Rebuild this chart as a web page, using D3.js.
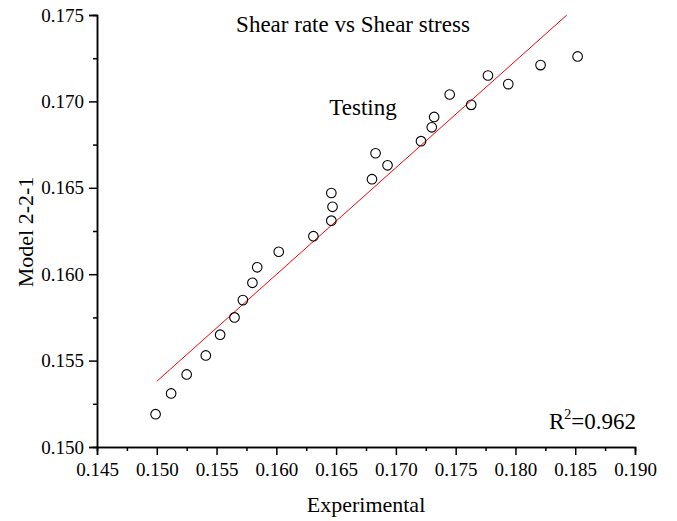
<!DOCTYPE html>
<html>
<head>
  <meta charset="utf-8">
  <title>Shear rate vs Shear stress</title>
  <style>
    html, body { margin: 0; padding: 0; background: #fff; }
    svg text { font-family: "Liberation Serif", "Times New Roman", serif; fill: #000; }
  </style>
  <script src="https://cdnjs.cloudflare.com/ajax/libs/d3/7.8.5/d3.min.js"></script>
</head>
<body>
<div id="chart"></div>
<script>

  // Testing points: experimental vs model output
  var experimental = [0.1499, 0.1512, 0.1525, 0.1541, 0.1553, 0.1565, 0.1572, 0.1580, 0.1584, 0.1602,
                      0.1631, 0.1646, 0.1647, 0.1646, 0.1680, 0.1683, 0.1693, 0.1721, 0.1730, 0.1732,
                      0.1745, 0.1763, 0.1777, 0.1794, 0.1821, 0.1852];
  var model = [0.1519, 0.1531, 0.1542, 0.1553, 0.1565, 0.1575, 0.1585, 0.1595, 0.1604, 0.1613,
               0.1622, 0.1631, 0.1639, 0.1647, 0.1655, 0.1670, 0.1663, 0.1677, 0.1685, 0.1691,
               0.1704, 0.1698, 0.1715, 0.1710, 0.1721, 0.1726];

  // fitted line, two end points
  var fitX = [0.1500, 0.1843];
  var fitY = [0.1538, 0.1750];

  var xTicks = [0.145, 0.150, 0.155, 0.160, 0.165, 0.170, 0.175, 0.180, 0.185, 0.190];
  var yTicks = [0.150, 0.155, 0.160, 0.165, 0.170, 0.175];
  var xMinor = [0.1475, 0.1525, 0.1575, 0.1625, 0.1675, 0.1725, 0.1775, 0.1825, 0.1875];
  var yMinor = [0.1525, 0.1575, 0.1625, 0.1675, 0.1725];

  var W = 677, H = 521;
  var margin = { left: 97, right: 42, top: 15, bottom: 74 };
  var serif = '"Liberation Serif", "Times New Roman", serif';

  var svg = d3.select("#chart").append("svg")
    .attr("width", W).attr("height", H);

  var x = d3.scaleLinear().domain([0.145, 0.190]).range([margin.left, W - margin.right]);
  var y = d3.scaleLinear().domain([0.150, 0.175]).range([H - margin.bottom, margin.top]);

  // minor ticks (own groups so the major axis does not replace them)
  svg.append("g").attr("transform", "translate(0," + (H - margin.bottom) + ")")
    .call(d3.axisBottom(x).tickValues(xMinor).tickSize(4).tickFormat(""));
  svg.append("g").attr("transform", "translate(" + margin.left + ",0)")
    .call(d3.axisLeft(y).tickValues(yMinor).tickSize(4).tickFormat(""));

  svg.append("g").attr("transform", "translate(0," + (H - margin.bottom) + ")")
    .call(d3.axisBottom(x).tickValues(xTicks).tickSize(8).tickPadding(8).tickFormat(d3.format(".3f")));
  svg.append("g").attr("transform", "translate(" + margin.left + ",0)")
    .call(d3.axisLeft(y).tickValues(yTicks).tickSize(8).tickPadding(5).tickFormat(d3.format(".3f")));

  svg.selectAll("g").attr("font-family", serif).attr("font-size", 19);
  svg.selectAll(".domain").attr("stroke", "#000").attr("stroke-width", 1.5);
  svg.selectAll(".tick line").attr("stroke", "#000").attr("stroke-width", 1.5);
  svg.selectAll(".tick text").style("font-family", serif).style("font-size", "19px");

  // fit line
  svg.append("line")
    .attr("x1", x(fitX[0])).attr("y1", y(fitY[0]))
    .attr("x2", x(fitX[1])).attr("y2", y(fitY[1]))
    .attr("stroke", "#ff0000").attr("stroke-width", 1);

  // points
  svg.append("g").selectAll("circle")
    .data(experimental)
    .enter().append("circle")
    .attr("cx", function(d) { return x(d); })
    .attr("cy", function(d, i) { return y(model[i]); })
    .attr("r", 4.8)
    .attr("fill", "none")
    .attr("stroke", "#000")
    .attr("stroke-width", 1.1);

  // texts
  svg.append("text").attr("x", 353).attr("y", 32)
    .attr("text-anchor", "middle").style("font-size", "23px")
    .text("Shear rate vs Shear stress");

  svg.append("text").attr("x", 363).attr("y", 115)
    .attr("text-anchor", "middle").style("font-size", "23px")
    .text("Testing");

  var r2 = svg.append("text").attr("x", 636).attr("y", 429)
    .attr("text-anchor", "end").style("font-size", "23px");
  r2.append("tspan").text("R");
  r2.append("tspan").attr("dy", -10).style("font-size", "14px").text("2");
  r2.append("tspan").attr("dy", 10).text("=0.962");

  svg.append("text").attr("x", 366).attr("y", 512)
    .attr("text-anchor", "middle").style("font-size", "22px")
    .text("Experimental");

  svg.append("text")
    .attr("transform", "translate(33,232) rotate(-90)")
    .attr("text-anchor", "middle").style("font-size", "22px")
    .text("Model 2-2-1");

</script>
</body>
</html>
